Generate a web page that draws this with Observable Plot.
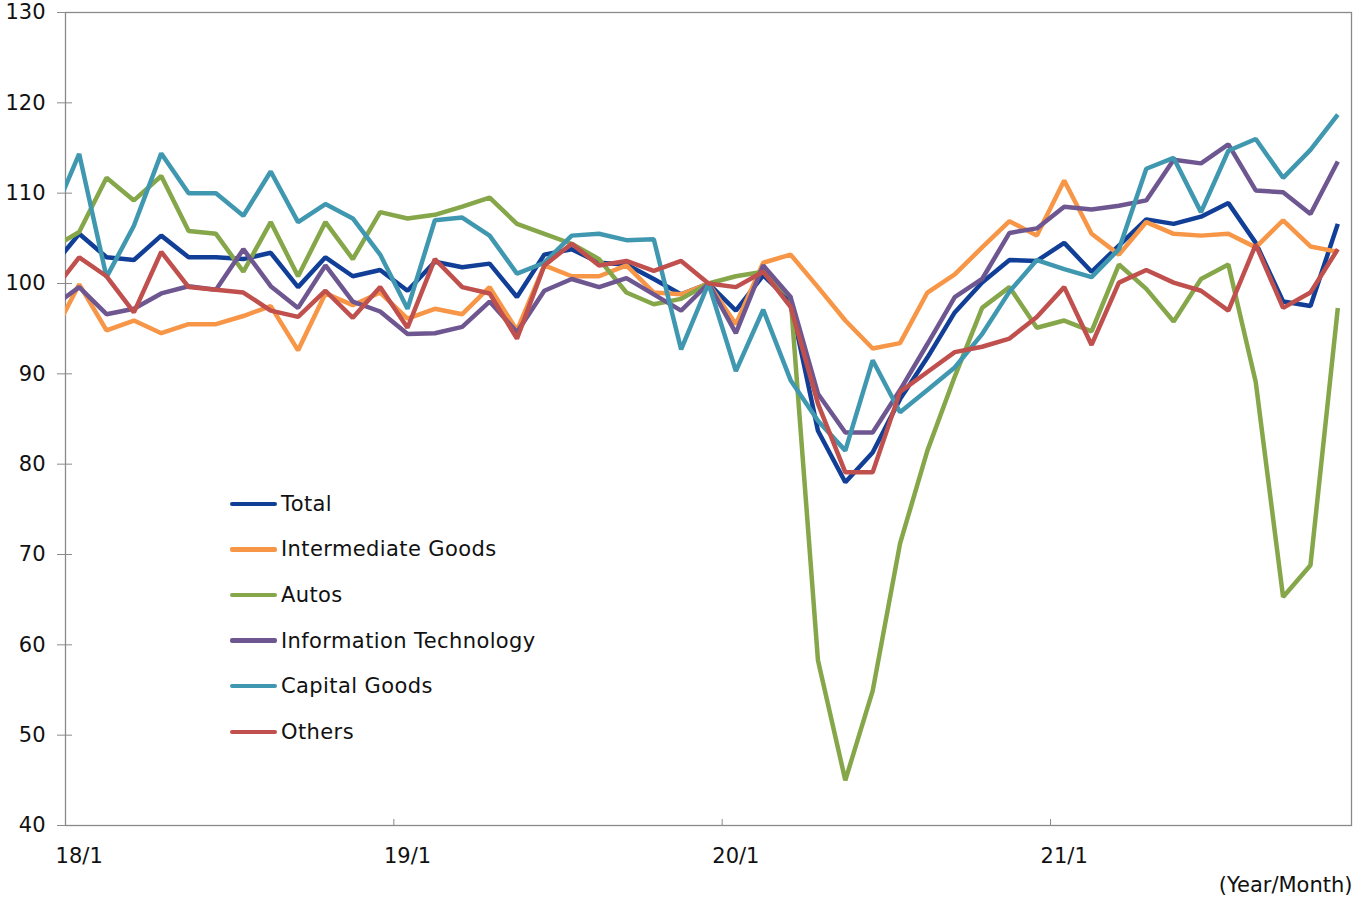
<!DOCTYPE html>
<html><head><meta charset="utf-8">
<script src="https://cdn.jsdelivr.net/npm/d3@7"></script>
<script src="https://cdn.jsdelivr.net/npm/@observablehq/plot@0.6"></script>
<style>
body{margin:0;background:#fff;font-family:"DejaVu Sans",Verdana,sans-serif;}
#wrap{position:relative;width:1353px;height:898px;}
#legend{position:absolute;left:230px;top:481px;}
.row{display:flex;align-items:center;height:45.6px;font-size:21px;letter-spacing:0.4px;color:#111;white-space:nowrap;}
.sw{width:47px;height:4.5px;border-radius:2px;margin-right:4px;}
</style></head><body><div id="wrap"></div>
<script>
// Months from 17/12 (partly clipped at the left edge) to 21/11
const monthLabels = ["17/12",
 "18/1","18/2","18/3","18/4","18/5","18/6","18/7","18/8","18/9","18/10","18/11","18/12",
 "19/1","19/2","19/3","19/4","19/5","19/6","19/7","19/8","19/9","19/10","19/11","19/12",
 "20/1","20/2","20/3","20/4","20/5","20/6","20/7","20/8","20/9","20/10","20/11","20/12",
 "21/1","21/2","21/3","21/4","21/5","21/6","21/7","21/8","21/9","21/10","21/11"];
const tickLabels = ["18/1","19/1","20/1","21/1"];
const yTicks = [40,50,60,70,80,90,100,110,120,130];

const total = [101.8,
 105.5,102.9,102.6,105.3,102.9,102.9,102.7,103.4,99.6,102.9,100.8,101.5,
 99.2,102.4,101.8,102.2,98.5,103.2,103.8,102.3,102.1,100.5,98.8,100,
 97.0,100.9,98.0,83.7,78.0,81.3,87.2,91.8,96.8,100.1,102.6,102.5,
 104.5,101.3,104.2,107.1,106.6,107.4,108.9,104.5,98.0,97.5,106.6];
const intermediate = [94.1,
 99.9,94.8,95.9,94.5,95.5,95.5,96.4,97.5,92.6,98.9,97.6,99.0,
 96.1,97.2,96.6,99.6,94.8,102.0,100.8,100.8,102.0,99.0,98.8,100,
 95.5,102.3,103.2,99.6,95.9,92.8,93.4,99.0,101.0,104.0,106.9,105.3,
 111.4,105.5,103.2,106.8,105.5,105.3,105.5,104.0,107.0,104.1,103.5];
const autos = [103.9,
 105.7,111.7,109.2,111.9,105.8,105.5,101.3,106.8,100.8,106.8,102.7,107.9,
 107.2,107.6,108.5,109.5,106.6,105.5,104.4,102.7,99.0,97.7,98.3,100,
 100.8,101.3,98.5,58.3,45.0,54.9,71.2,81.5,89.7,97.3,99.6,95.1,
 95.9,94.7,102.1,99.4,95.8,100.5,102.1,89.1,65.3,68.8,97.3];
const infoTech = [97.4,
 99.6,96.6,97.2,98.9,99.7,99.3,103.8,99.7,97.3,102.0,98.0,96.9,
 94.4,94.5,95.2,98.0,94.6,99.2,100.5,99.6,100.6,98.8,97.0,100,
 94.5,102.0,98.5,87.8,83.5,83.5,88.2,93.3,98.5,100.5,105.6,106.1,
 108.5,108.2,108.6,109.2,113.7,113.3,115.4,110.3,110.1,107.7,113.5];
const capital = [107.2,
 114.35,100.7,106.4,114.4,110.0,110.0,107.5,112.4,106.8,108.8,107.2,103.2,
 97.2,107.0,107.3,105.3,101.1,102.3,105.3,105.5,104.8,104.9,92.7,100,
 90.3,97.1,89.3,84.8,81.5,91.5,85.75,88.2,90.7,94.4,99.1,102.6,
 101.6,100.7,103.8,112.7,113.9,107.9,114.7,116.0,111.7,114.8,118.7];
const others = [99.0,
 102.9,100.8,96.8,103.5,99.6,99.3,99.0,97.0,96.3,99.2,96.2,99.6,
 95.1,102.7,99.6,98.9,93.9,102.0,104.4,102.0,102.5,101.4,102.5,100,
 99.6,101.3,97.4,86.7,79.1,79.1,88.0,90.2,92.4,93.0,93.9,96.3,
 99.6,93.2,100.1,101.5,100.1,99.2,97.0,104.3,97.3,99.0,103.8];

const seriesNames = ["Total","Intermediate Goods","Autos","Information Technology","Capital Goods","Others"];
const seriesValues = [total, intermediate, autos, infoTech, capital, others];
const seriesColors = ["#113F98","#F79646","#86A64A","#6E5790","#4098B0","#C0504D"];

const rows = [];
seriesNames.forEach((name, s) => {
  seriesValues[s].forEach((v, i) => rows.push({series: name, idx: i - 1, month: monthLabels[i], value: v}));
});

const chart = Plot.plot({
  width: 1353,
  height: 898,
  marginLeft: 65,
  marginRight: 2,
  marginTop: 12,
  marginBottom: 73,
  style: {fontFamily: "'DejaVu Sans', Verdana, sans-serif", fontSize: "21px", color: "#111", background: "#fff"},
  x: {type: "linear", domain: [-0.5, 46.5]},
  y: {domain: [40, 130]},
  color: {domain: seriesNames, range: seriesColors},
  marks: [
    Plot.frame({stroke: "#8a8a8a", strokeWidth: 1.3}),
    Plot.axisY({ticks: yTicks, tickSize: 8, stroke: "#8a8a8a", tickFormat: () => "", label: null}),
    Plot.axisY({ticks: yTicks, tickSize: -7, stroke: "#8a8a8a", tickFormat: () => "", label: null}),
    Plot.axisY({ticks: yTicks, tickSize: 0, tickPadding: 20, label: null, fill: "#111"}),
    Plot.axisX({ticks: [11.5, 23.5, 35.5], tickSize: -6, stroke: "#8a8a8a", tickFormat: () => "", label: null}),
    Plot.axisX({ticks: [0, 12, 24, 36], tickSize: 0, tickPadding: 23, tickFormat: d => tickLabels[Math.round(d / 12)], label: null, fill: "#111"}),
    Plot.line(rows, {x: "idx", y: "value", z: "series", stroke: "series", strokeWidth: 4.5, clip: true, strokeLinejoin: "miter", strokeLinecap: "butt"}),
    Plot.text(["(Year/Month)"], {frameAnchor: "bottom-right", text: d => d, textAnchor: "end", dy: 66, dx: 1, fill: "#111"})
  ]
});
const wrap = document.getElementById("wrap");
wrap.appendChild(chart);

const legend = document.createElement("div");
legend.id = "legend";
seriesNames.forEach((name, s) => {
  const row = document.createElement("div");
  row.className = "row";
  const sw = document.createElement("div");
  sw.className = "sw";
  sw.style.background = seriesColors[s];
  const t = document.createElement("span");
  t.textContent = name;
  row.appendChild(sw); row.appendChild(t);
  legend.appendChild(row);
});
wrap.appendChild(legend);
</script></body></html>
